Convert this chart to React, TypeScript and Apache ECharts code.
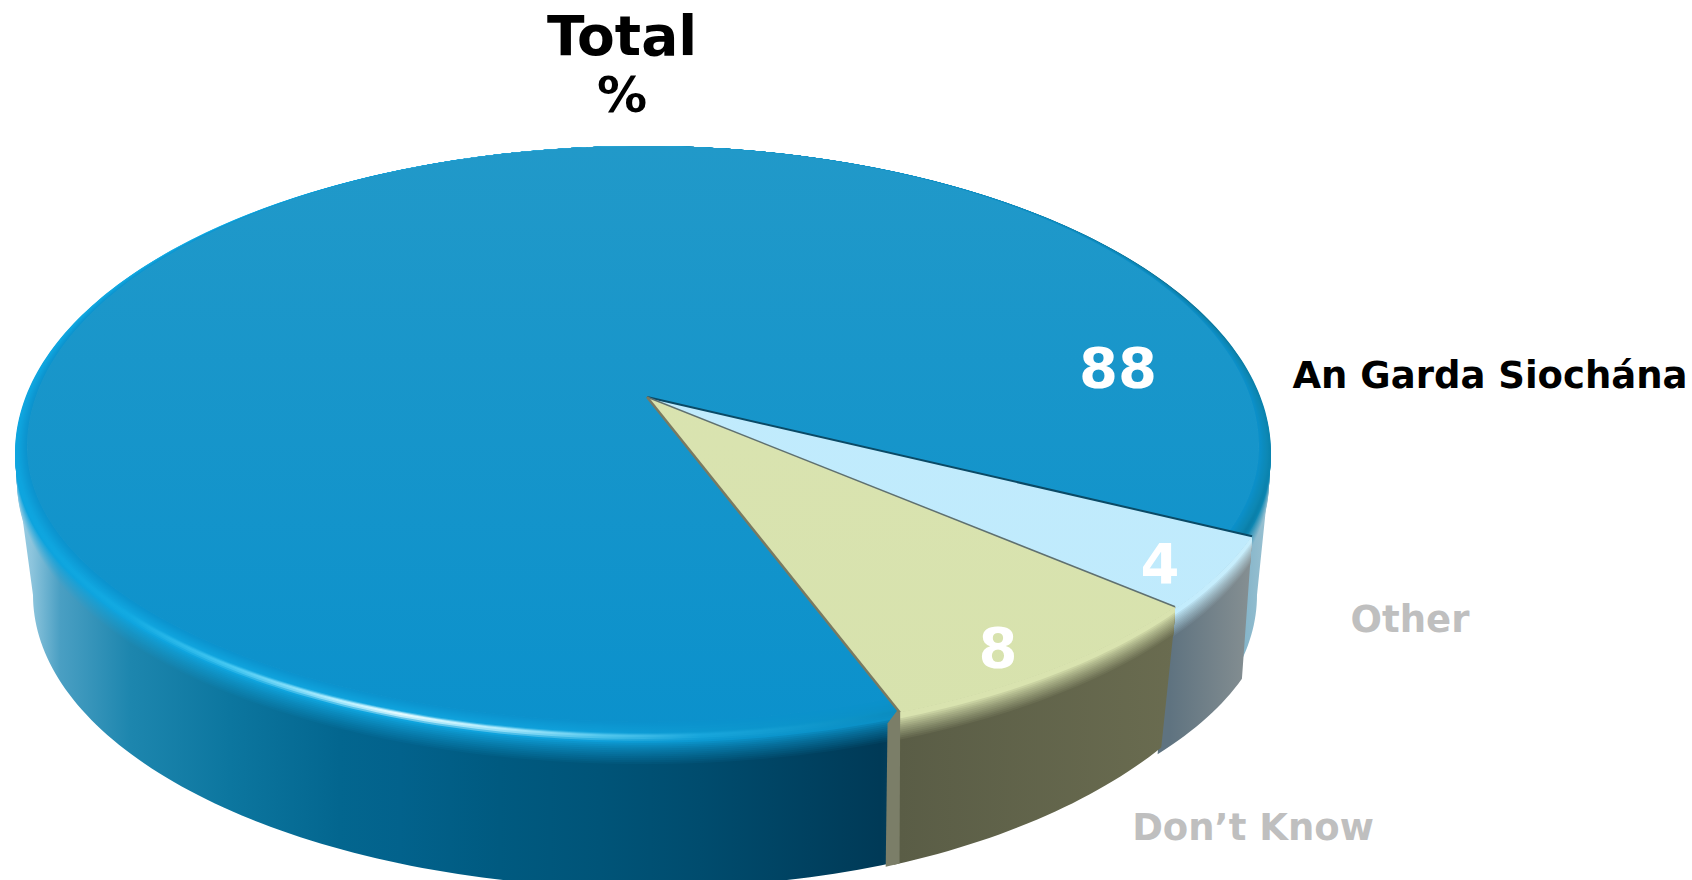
import React, { useEffect, useRef } from "react";
import * as echarts from "echarts";

const categories = ["An Garda Siochána", "Other", "Don’t Know"];
const values = [88, 4, 8];
const titleText = "Total";
const unitText = "%";

const FONT = "DejaVu Sans";
const START_ANGLE = 70;
const A = -0.182;
const SQ = Math.sqrt(1 - A * A);
const APEX: [number, number] = [647, 397];
type Ell = { cx: number; cy: number; rx: number; up: number; low: number };
const RING0: Ell = { cx: 643, cy: 447, rx: 616, up: 301, low: 275 };
const RING1: Ell = { cx: 643, cy: 453, rx: 628, up: 307, low: 284 };
const RING2: Ell = { cx: 643, cy: 482, rx: 626, up: 307, low: 284 };
const RX_EXTRA = [0, 9, 5];
const BASES: Ell[] = [
  { cx: 645, cy: 595, rx: 612, up: 293, low: 293 },
  { cx: 630, cy: 598, rx: 640, up: 276, low: 276 },
  { cx: 651, cy: 578, rx: 607, up: 313, low: 313 },
];
const GX0 = 15;
const GX1 = 1271;
const LAYERS = 30;
// How far, in degrees, each slice's top and side run on under the next slice, so no seam shows.
const TOP_TUCK = [6, 1.5, 0];
const SIDE_TUCK = [0, 1.5, 0.3];

// [x, band colour, glint colour, side colour]
const SHADES: [number, string, string, string][][] = [
  [
    [15, "#0ea3dd", "#0ea5df", "#9fd0e6"],
    [32, "#0ea3dd", "#0ea5df", "#8cc4dc"],
    [60, "#0ea3dd", "#0fa6df", "#4a9fc3"],
    [130, "#0fa4de", "#12aae2", "#1d86ae"],
    [230, "#0fa4de", "#45c8f2", "#0c769f"],
    [340, "#0fa4de", "#b8f0ff", "#03668f"],
    [400, "#0fa4de", "#e4fbff", "#02628c"],
    [500, "#0fa2dc", "#b0ecfd", "#005a80"],
    [600, "#0e9ed8", "#55c8ee", "#005478"],
    [700, "#0c98d0", "#18a6dc", "#004c6e"],
    [880, "#0b90c6", "#0b8ec2", "#003a57"],
    [1180, "#0d7fa8", "#0a6f94", "#4f93b3"],
    [1271, "#0d88b4", "#0a84b0", "#9cc3d3"],
  ],
  [
    [15, "#c2ecfd", "#c2ecfd", "#5f7380"],
    [1170, "#c2ecfd", "#c2ecfd", "#5f7380"],
    [1250, "#c8eefc", "#c8eefc", "#858f92"],
    [1271, "#c8eefc", "#c8eefc", "#8a9294"],
  ],
  [
    [15, "#d9e3af", "#d9e3af", "#5a5d46"],
    [900, "#d9e3af", "#d9e3af", "#5a5d46"],
    [1180, "#d9e3af", "#d9e3af", "#6a6c50"],
    [1271, "#d9e3af", "#d9e3af", "#6a6c50"],
  ],
];
const FACES: [string, string][] = [
  ["#2199c9", "#0b91cc"],
  ["#c2ecfd", "#bfeafc"],
  ["#dbe4b2", "#d7e2ad"],
];
const VALUE_POS: [number, number][] = [
  [1118, 367],
  [1160, 563],
  [998, 647],
];
const NAME_POS: [number, number][] = [
  [1490, 375],
  [1410, 619],
  [1253, 827],
];
const NAME_COLORS = ["#000000", "#bfbfbf", "#bfbfbf"];

function hex(c: string) {
  return [1, 3, 5].map((i) => parseInt(c.slice(i, i + 2), 16));
}
function mix(a: string, b: string, t: number) {
  const p = hex(a);
  const q = hex(b);
  const r = p.map((v, i) => Math.round(v + (q[i] - v) * t));
  return `rgb(${r[0]},${r[1]},${r[2]})`;
}
function project(e: Ell, deg: number): [number, number] {
  const th = (deg * Math.PI) / 180;
  const x = Math.cos(th);
  const y = Math.sin(th);
  const d = 1 + A * y;
  const yy = (y + A) / d;
  return [e.cx + (e.rx * x * SQ) / d, e.cy + (yy < 0 ? e.up : e.low) * yy];
}
function arc(e: Ell, a0: number, a1: number) {
  const n = Math.max(2, Math.ceil(Math.abs(a1 - a0)));
  const out: [number, number][] = [];
  for (let i = 0; i <= n; i++) out.push(project(e, a0 + ((a1 - a0) * i) / n));
  return out;
}
function ringAt(s: number, i = 0): Ell {
  const [p, q, t] = s < 0.5 ? [RING0, RING1, s / 0.5] : [RING1, RING2, (s - 0.5) / 0.5];
  const l = (k: keyof Ell) => p[k] + (q[k] - p[k]) * t;
  return { cx: l("cx"), cy: l("cy"), rx: l("rx") + RX_EXTRA[i], up: l("up"), low: l("low") };
}
function hGrad(stops: { offset: number; color: string }[]) {
  return { type: "linear", x: GX0, y: 0, x2: GX1, y2: 0, global: true, colorStops: stops };
}
function ringColor(i: number, s: number, band: string, glint: string, side: string) {
  const face = FACES[i][1];
  if (s < 0.38) return mix(face, band, s / 0.38);
  if (s < 0.46) return mix(band, glint, (s - 0.38) / 0.08);
  if (s < 0.52) return mix(glint, glint, 0);
  if (s < 0.6) return mix(glint, band, (s - 0.52) / 0.08);
  return mix(band, side, Math.pow((s - 0.6) / 0.4, 0.8));
}
function ringFill(i: number, s: number) {
  return hGrad(
    SHADES[i].map(([x, band, glint, side]) => ({
      offset: (x - GX0) / (GX1 - GX0),
      color: ringColor(i, s, band, glint, side),
    }))
  );
}
function sideFill(i: number) {
  return hGrad(
    SHADES[i].map(([x, , , side]) => ({ offset: (x - GX0) / (GX1 - GX0), color: side }))
  );
}
// Front of the drum, in degrees: the part of the ring whose screen y is below the widest line.
const FRONT0 = (Math.asin(-A) * 180) / Math.PI;
const FRONT1 = 180 - FRONT0;
function frontParts(a0: number, a1: number) {
  const parts: [number, number][] = [];
  for (const k of [0, 360, 720]) {
    const lo = Math.max(a0, FRONT0 + k);
    const hi = Math.min(a1, FRONT1 + k);
    if (hi > lo) parts.push([lo, hi]);
  }
  return parts;
}

function renderSlice(params: any, api: any) {
  const i = params.dataIndex;
  const total = values.reduce((p, v) => p + v, 0);
  let before = 0;
  for (let k = 0; k < i; k++) before += values[k];
  const v = api.value(0);
  const a0 = START_ANGLE + (before / total) * 360;
  const a1 = a0 + (v / total) * 360;
  const topEnd = a1 + TOP_TUCK[i];
  const children: any[] = [];
  const poly = (points: number[][], fill: any) =>
    children.push({ type: "polygon", silent: true, shape: { points }, style: { fill } });
  const line = (p: number[], q: number[], stroke: string, lineWidth: number) =>
    children.push({
      type: "line",
      silent: true,
      shape: { x1: p[0], y1: p[1], x2: q[0], y2: q[1] },
      style: { stroke, lineWidth },
    });

  const under = ringAt(0.85, i);
  const base = BASES[i];
  for (const [lo, hi] of frontParts(a0, a1 + SIDE_TUCK[i])) {
    poly([...arc(under, lo, hi), ...arc(base, hi, lo)], sideFill(i));
  }
  // The light slices' faces run out to the crest of the rim; the big one stops short of it.
  const innerS = i === 0 ? 0 : 0.5;
  const inner = arc(ringAt(innerS, i), a0, topEnd);
  for (let l = LAYERS; l >= 1; l--) {
    const s = l / LAYERS;
    if (s <= innerS) break;
    poly([...arc(ringAt(s, i), a0, topEnd), ...inner.slice().reverse()], ringFill(i, s));
  }
  if (i === 2) {
    // the cut wall beside the lifted slice
    const wall = 1;
    poly(
      [
        project(ringAt(0.3, i), a1 - 0.2),
        project(ringAt(0.65, i), a1 + wall),
        project(base, a1 + wall),
        project(base, a1 - 0.2),
      ],
      "#7b7e68"
    );
  }
  poly([APEX, ...inner], {
    type: "linear",
    x: 0,
    y: 146,
    x2: 0,
    y2: 737,
    global: true,
    colorStops: [
      { offset: 0, color: FACES[i][0] },
      { offset: 1, color: FACES[i][1] },
    ],
  });
  if (i === 1) {
    line(APEX, inner[0], "#0a4a66", 2);
  }
  if (i === 2) {
    line(APEX, inner[0], "#5f7070", 1.5);
    line(APEX, inner[inner.length - 1], "#7a7a60", 2.5);
  }
  children.push({
    type: "text",
    silent: true,
    style: {
      text: String(v),
      x: VALUE_POS[i][0],
      y: VALUE_POS[i][1],
      align: "center",
      verticalAlign: "middle",
      fill: "#ffffff",
      font: `bold 56px "${FONT}"`,
    },
  });
  children.push({
    type: "text",
    silent: true,
    style: {
      text: categories[i],
      x: NAME_POS[i][0],
      y: NAME_POS[i][1],
      align: "center",
      verticalAlign: "middle",
      fill: NAME_COLORS[i],
      font: `bold 37px "${FONT}"`,
    },
  });
  return { type: "group", children };
}

export default function App() {
  const ref = useRef<HTMLDivElement>(null);
  useEffect(() => {
    const chart = echarts.init(ref.current!, undefined, { renderer: "svg" });
    chart.setOption({
      animation: false,
      backgroundColor: "#ffffff",
      title: {
        text: titleText,
        subtext: unitText,
        left: 617,
        top: 3,
        textAlign: "center",
        itemGap: 7,
        textStyle: { fontFamily: FONT, fontWeight: "bold", fontSize: 55, color: "#000000" },
        subtextStyle: { fontFamily: FONT, fontWeight: "bold", fontSize: 50, color: "#000000" },
      },
      series: [
        {
          type: "custom",
          coordinateSystem: "none",
          silent: true,
          renderItem: renderSlice,
          data: values.map((v, i) => ({ name: categories[i], value: [v] })),
        },
      ],
    });
    return () => chart.dispose();
  }, []);
  return (
    <div
      ref={ref}
      style={{ position: "fixed", left: 0, top: 0, width: 1692, height: 880, overflow: "hidden" }}
    />
  );
}
